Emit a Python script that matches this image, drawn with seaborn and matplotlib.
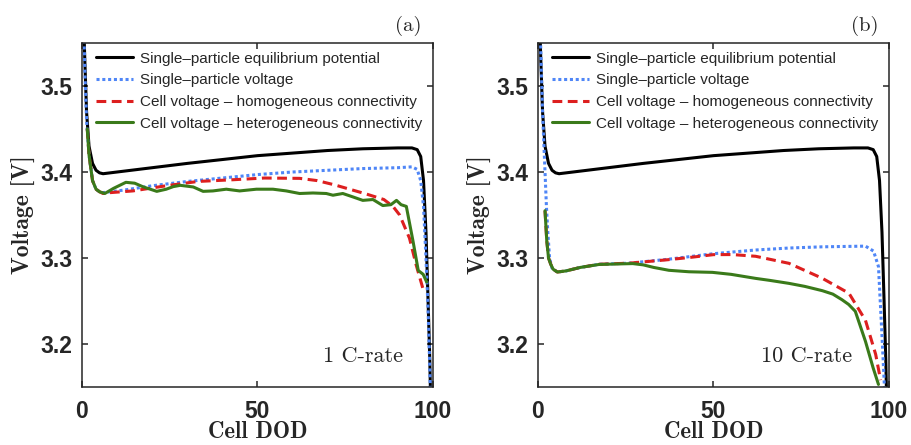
import matplotlib
matplotlib.use("Agg")
import matplotlib.pyplot as plt
import seaborn as sns
import pandas as pd

# -----------------------------
# Datos
# -----------------------------
dod_eq = [0.3, 0.8, 1.3, 2.0, 3.0, 4.0, 5.0, 6.0, 8, 12, 20, 30, 40, 50, 60, 70, 80, 90,
          94, 95.5, 96.5, 97.3, 98.0, 98.6, 99.1, 99.5]
v_eq = [3.60, 3.53, 3.47, 3.43, 3.41, 3.402, 3.399, 3.398, 3.399, 3.401, 3.405, 3.410,
        3.4145, 3.419, 3.422, 3.425, 3.427, 3.428, 3.428, 3.426, 3.418, 3.39, 3.33, 3.25,
        3.18, 3.10]

# 1 C-rate
dod_sp_a = [0.3, 0.8, 1.3, 2.0, 3.0, 4.0, 5.0, 6.0, 8, 12, 20, 30, 40, 50, 60, 70, 80, 90,
            94, 95.5, 96.5, 97.3, 98.0, 98.6, 99.1, 99.5]
v_sp_a = [3.60, 3.52, 3.46, 3.42, 3.39, 3.38, 3.377, 3.376, 3.377, 3.379, 3.384, 3.389,
          3.393, 3.397, 3.400, 3.402, 3.404, 3.405, 3.406, 3.403, 3.39, 3.36, 3.30, 3.24,
          3.17, 3.10]
dod_hom_a = [1.5, 2.0, 3.0, 4.0, 5.0, 6.0, 8, 14.5, 24, 33, 43, 52, 62, 67, 72, 81, 86,
             88.6, 90.5, 93.3, 95.2, 97.3]
v_hom_a = [3.45, 3.42, 3.39, 3.38, 3.377, 3.375, 3.376, 3.378, 3.384, 3.389, 3.391, 3.393,
           3.3926, 3.390, 3.385, 3.3744, 3.368, 3.36, 3.35, 3.323, 3.292, 3.262]
dod_het_a = [1.5, 2, 3, 4, 5, 6.5, 9, 12.5, 15, 17.5, 21.3, 24, 26, 28, 31.7, 34.5, 37.3,
             41.1, 44.9, 49.7, 54.4, 58.2, 62, 65.8, 69.6, 71.5, 74.3, 77.2, 80, 82.9,
             85.7, 88, 89.6, 90.9, 92.4, 94.3, 95.8, 97.2, 98.2]
v_het_a = [3.45, 3.42, 3.39, 3.38, 3.377, 3.375, 3.381, 3.388, 3.387, 3.3826, 3.3775,
           3.380, 3.383, 3.3845, 3.3826, 3.3775, 3.378, 3.380, 3.378, 3.380, 3.380, 3.378,
           3.375, 3.3756, 3.375, 3.373, 3.375, 3.371, 3.367, 3.368, 3.361, 3.362, 3.367,
           3.362, 3.36, 3.3197, 3.2855, 3.281, 3.272]

# 10 C-rate
dod_sp_b = [0.3, 0.8, 1.3, 1.7, 2.0, 2.4, 2.8, 3.3, 4.0, 5.5, 8, 12, 17.4, 26, 37, 50, 62,
            71.5, 81, 93.3, 95.6, 97.0, 98.0, 98.7, 99.2]
v_sp_b = [3.62, 3.54, 3.47, 3.43, 3.40, 3.36, 3.33, 3.30, 3.288, 3.2837, 3.285, 3.289,
          3.2927, 3.294, 3.2985, 3.305, 3.3093, 3.3116, 3.313, 3.3138, 3.308, 3.29, 3.21,
          3.15, 3.10]
dod_hom_b = [2.0, 2.5, 3.0, 3.6, 4.3, 5.5, 8, 12, 17.4, 26, 37, 44, 50, 55.4, 62, 71.5, 81,
             88.6, 93.3, 96.2, 97.6]
v_hom_b = [3.355, 3.32, 3.30, 3.293, 3.287, 3.2837, 3.285, 3.289, 3.2927, 3.294, 3.298,
           3.301, 3.3039, 3.304, 3.302, 3.2938, 3.2764, 3.259, 3.2275, 3.188, 3.158]
dod_het_b = [2.0, 2.5, 3.0, 3.6, 4.3, 5.5, 8, 12, 17.4, 22, 27, 30, 33, 37.3, 43, 49.7, 55,
             62, 66, 71.5, 76, 81, 84, 86.6, 88.5, 90.4, 93.3, 95.5, 97.0]
v_het_b = [3.355, 3.32, 3.30, 3.293, 3.287, 3.2837, 3.285, 3.289, 3.2925, 3.293, 3.2935,
           3.292, 3.289, 3.2857, 3.284, 3.2833, 3.281, 3.2763, 3.274, 3.2705, 3.267, 3.262,
           3.258, 3.2515, 3.246, 3.238, 3.203, 3.172, 3.153]

labels = ["Single\u2013particle equilibrium potential",
          "Single\u2013particle voltage",
          "Cell voltage \u2013 homogeneous connectivity",
          "Cell voltage \u2013 heterogeneous connectivity"]
colores = ["black", "#4f86f7", "#dd1f1f", "#3a7a1a"]
estilos = ["-", (0, (1, 0.9)), (0, (3.2, 1.8)), "-"]
grosor = [2.2, 2.2, 2.2, 2.2]

paneles = [
    ("(a)", "1 C-rate", 0.80, [(dod_eq, v_eq), (dod_sp_a, v_sp_a), (dod_hom_a, v_hom_a), (dod_het_a, v_het_a)]),
    ("(b)", "10 C-rate", 0.765, [(dod_eq, v_eq), (dod_sp_b, v_sp_b), (dod_hom_b, v_hom_b), (dod_het_b, v_het_b)]),
]

sns.set_style("ticks")
plt.rcParams["font.family"] = ["Liberation Sans", "DejaVu Sans"]

fig = plt.figure(figsize=(9.12, 4.45), dpi=100)
lefts = [82 / 912, 538 / 912]

for left, (letra, tasa, xtasa, series) in zip(lefts, paneles):
    ax = fig.add_axes([left, 1 - 387 / 445, 351 / 912, 344 / 445])
    for (x, y), lab, c, ls, lw in zip(series, labels, colores, estilos, grosor):
        df = pd.DataFrame({"dod": x, "v": y})
        sns.lineplot(data=df, x="dod", y="v", ax=ax, color=c, linestyle=ls, linewidth=lw,
                     sort=False, estimator=None, label=lab)
    ax.set_xlim(0, 100)
    ax.set_ylim(3.15, 3.55)
    ax.set_xticks([0, 50, 100])
    ax.set_yticks([3.2, 3.3, 3.4, 3.5])
    ax.tick_params(direction="in", top=True, right=True, length=4, width=1.1,
                   labelsize=16.5, pad=7)
    ax.tick_params(axis="x", pad=9)
    for lbl in ax.get_xticklabels() + ax.get_yticklabels():
        lbl.set_fontweight("bold")
    for sp in ax.spines.values():
        sp.set_linewidth(1.1)
    ax.set_xlabel("Cell DOD", family=["cmb10", "Liberation Serif"], fontsize=16.5,
                  labelpad=-1)
    ax.set_ylabel("Voltage [V]", family=["cmb10", "Liberation Serif"], fontsize=17,
                  labelpad=3)
    ax.legend(loc="upper left", bbox_to_anchor=(0.04, 0.975), frameon=False,
              fontsize=11, handlelength=2.4, handletextpad=0.45, labelspacing=0.5,
              borderpad=0, borderaxespad=0)
    ax.text(0.93, 1.05, letra, transform=ax.transAxes, ha="center", va="center",
            family=["cmr10", "Liberation Serif"], fontsize=15)
    ax.text(xtasa, 0.09, tasa, transform=ax.transAxes,
            ha="center", va="center", family=["cmr10", "Liberation Serif"], fontsize=16)

fig.savefig("out.png", dpi=100)
